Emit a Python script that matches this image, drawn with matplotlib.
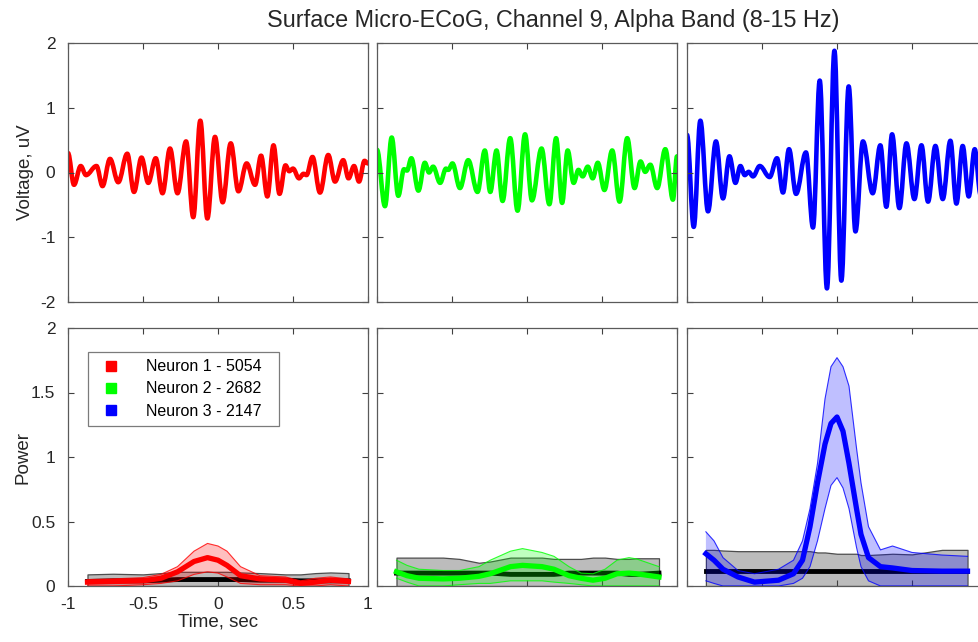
import matplotlib
matplotlib.use("Agg")
import matplotlib.pyplot as plt
from matplotlib.path import Path
from matplotlib.patches import PathPatch
from matplotlib.lines import Line2D

plt.rcParams['font.family'] = ['Liberation Sans', 'DejaVu Sans']

# ---- top row: alpha-band filtered voltage, extrema of each trace (sec, uV) ----
v1_t = [-1.0, -0.96, -0.915, -0.88, -0.81, -0.77, -0.72, -0.665, -0.605, -0.56, -0.51, -0.465,
        -0.415, -0.37, -0.32, -0.27, -0.213, -0.165, -0.118, -0.071, -0.02, 0.031, 0.085, 0.136,
        0.191, 0.247, 0.287, 0.329, 0.37, 0.41, 0.45, 0.475, 0.50, 0.54, 0.57, 0.59, 0.63, 0.68,
        0.735, 0.78, 0.835, 0.87, 0.907, 0.94, 0.977, 1.0]
v1_v = [0.30, -0.19, 0.10, -0.04, 0.10, -0.21, 0.21, -0.15, 0.29, -0.30, 0.23, -0.16,
        0.22, -0.32, 0.37, -0.32, 0.48, -0.69, 0.80, -0.71, 0.55, -0.46, 0.45, -0.29,
        0.14, -0.19, 0.26, -0.37, 0.42, -0.33, 0.11, 0.02, 0.06, -0.09, -0.02, -0.04, 0.24, -0.31,
        0.27, -0.14, 0.19, -0.09, 0.10, -0.14, 0.18, 0.14]

v2_t = [-1.0, -0.947, -0.902, -0.858, -0.82, -0.80, -0.771, -0.724, -0.681, -0.653, -0.626, -0.579,
        -0.54, -0.525, -0.497, -0.447, -0.392, -0.33, -0.281, -0.245, -0.203, -0.163, -0.112, -0.063,
        -0.013, 0.033, 0.097, 0.149, 0.194, 0.234, 0.271, 0.311, 0.343, 0.371, 0.405, 0.438, 0.472,
        0.516, 0.568, 0.617, 0.668, 0.717, 0.757, 0.788, 0.822, 0.868, 0.922, 0.973, 1.0]
v2_v = [0.35, -0.52, 0.54, -0.36, 0.05, 0.03, 0.22, -0.28, 0.15, 0.0, 0.09, -0.16,
        0.06, 0.04, 0.14, -0.24, 0.19, -0.30, 0.34, -0.30, 0.34, -0.44, 0.53, -0.59,
        0.59, -0.43, 0.37, -0.49, 0.53, -0.47, 0.34, -0.16, 0.04, -0.06, 0.09, -0.09, 0.15,
        -0.27, 0.34, -0.45, 0.53, -0.24, 0.17, 0.01, 0.12, -0.24, 0.36, -0.42, 0.25]

v3_t = [-1.0, -0.955, -0.911, -0.86, -0.807, -0.76, -0.717, -0.677, -0.644, -0.615, -0.589, -0.56,
        -0.515, -0.449, -0.40, -0.36, -0.32, -0.273, -0.207, -0.16, -0.115, -0.067, -0.017, 0.029,
        0.078, 0.123, 0.173, 0.238, 0.289, 0.329, 0.367, 0.416, 0.463, 0.516, 0.563, 0.607, 0.656,
        0.705, 0.756, 0.796, 0.838, 0.878, 0.918, 0.958, 1.0]
v3_v = [0.58, -0.84, 0.80, -0.60, 0.48, -0.40, 0.25, -0.16, 0.10, -0.04, 0.01, -0.06,
        0.10, -0.07, 0.22, -0.31, 0.36, -0.33, 0.31, -0.85, 1.42, -1.79, 1.88, -1.67,
        1.33, -0.91, 0.48, -0.32, 0.42, -0.53, 0.59, -0.55, 0.45, -0.41, 0.42, -0.45, 0.41,
        -0.41, 0.49, -0.48, 0.41, -0.37, 0.36, -0.35, 0.20]

# ---- bottom row: power envelopes ----
p1_t = [-0.87, -0.7, -0.5, -0.38, -0.27, -0.16, -0.07, 0.0, 0.06, 0.15, 0.28, 0.45, 0.55, 0.65, 0.75, 0.87]
p1_mean = [0.03, 0.035, 0.04, 0.06, 0.11, 0.19, 0.22, 0.20, 0.16, 0.08, 0.055, 0.045, 0.02, 0.03, 0.045, 0.035]
p1_hi = [0.05, 0.055, 0.065, 0.09, 0.15, 0.27, 0.33, 0.31, 0.27, 0.15, 0.08, 0.07, 0.04, 0.06, 0.07, 0.055]
p1_lo = [0.0, 0.0, 0.01, 0.02, 0.04, 0.09, 0.11, 0.10, 0.07, 0.02, 0.01, 0.01, 0.0, 0.0, 0.01, 0.0]
b1_hi = [0.09, 0.095, 0.09, 0.10, 0.11, 0.11, 0.11, 0.11, 0.11, 0.105, 0.10, 0.09, 0.09, 0.10, 0.105, 0.10]
b1_mean = [0.035, 0.04, 0.04, 0.045, 0.05, 0.05, 0.05, 0.05, 0.05, 0.05, 0.045, 0.045, 0.04, 0.04, 0.04, 0.04]
b1_lo = [0.0] * 16

p2_t = [-0.87, -0.8, -0.72, -0.56, -0.45, -0.32, -0.245, -0.11, -0.03, 0.1, 0.18, 0.28, 0.36,
        0.44, 0.52, 0.6, 0.68, 0.73, 0.88]
p2_mean = [0.11, 0.08, 0.06, 0.055, 0.06, 0.075, 0.095, 0.15, 0.16, 0.15, 0.13, 0.08, 0.06,
           0.045, 0.06, 0.095, 0.10, 0.095, 0.07]
p2_hi = [0.20, 0.16, 0.13, 0.12, 0.12, 0.15, 0.20, 0.27, 0.29, 0.26, 0.23, 0.15, 0.10,
         0.095, 0.13, 0.20, 0.22, 0.21, 0.15]
p2_lo = [0.06, 0.03, 0.0, 0.0, 0.01, 0.02, 0.02, 0.04, 0.04, 0.04, 0.03, 0.02, 0.01,
         0.0, 0.0, 0.0, 0.0, 0.0, 0.0]
b2_hi = [0.22, 0.22, 0.22, 0.22, 0.21, 0.18, 0.19, 0.22, 0.22, 0.22, 0.21, 0.21, 0.21,
         0.22, 0.22, 0.21, 0.21, 0.215, 0.215]
b2_mean = [0.10, 0.10, 0.10, 0.10, 0.10, 0.10, 0.10, 0.09, 0.09, 0.09, 0.09, 0.10, 0.10,
           0.10, 0.10, 0.10, 0.09, 0.09, 0.10]
b2_lo = [0.0] * 19

p3_t = [-0.874, -0.82, -0.76, -0.66, -0.55, -0.39, -0.29, -0.23, -0.18, -0.13, -0.08, -0.04, 0.0,
        0.04, 0.08, 0.13, 0.16, 0.21, 0.29, 0.37, 0.5, 0.7, 0.87]
p3_mean = [0.25, 0.20, 0.13, 0.07, 0.03, 0.045, 0.095, 0.20, 0.46, 0.80, 1.10, 1.26, 1.31,
           1.20, 0.95, 0.60, 0.40, 0.22, 0.15, 0.14, 0.12, 0.115, 0.115]
p3_hi = [0.42, 0.35, 0.22, 0.12, 0.095, 0.13, 0.20, 0.35, 0.60, 0.95, 1.45, 1.70, 1.77,
         1.70, 1.55, 1.07, 0.80, 0.46, 0.28, 0.31, 0.26, 0.24, 0.23]
p3_lo = [0.04, 0.02, 0.0, 0.0, 0.0, 0.0, 0.02, 0.06, 0.15, 0.35, 0.60, 0.78, 0.84,
         0.76, 0.60, 0.30, 0.15, 0.04, 0.0, 0.0, 0.0, 0.0, 0.0]
b3_hi = [0.28, 0.28, 0.275, 0.27, 0.27, 0.27, 0.27, 0.27, 0.27, 0.26, 0.26, 0.255, 0.25,
         0.25, 0.25, 0.25, 0.24, 0.24, 0.245, 0.25, 0.245, 0.28, 0.28]
b3_mean = [0.115] * 23
b3_lo = [0.0] * 23

labels = ['Neuron 1 - 5054', 'Neuron 2 - 2682', 'Neuron 3 - 2147']
colors = ['#ff0000', '#00ff00', '#0000ff']


def wave_path(t, v):
    # smooth half-cycles between successive extrema
    verts = [(t[0], v[0])]
    codes = [Path.MOVETO]
    for i in range(len(t) - 1):
        dt = t[i + 1] - t[i]
        verts += [(t[i] + 0.36 * dt, v[i]), (t[i + 1] - 0.36 * dt, v[i + 1]), (t[i + 1], v[i + 1])]
        codes += [Path.CURVE4] * 3
    return Path(verts, codes)


def style(ax, ylim, yticks, show_y, show_x):
    ax.set_xlim(-1, 1)
    ax.set_ylim(*ylim)
    ax.set_xticks([-1, -0.5, 0, 0.5, 1])
    ax.set_yticks(yticks)
    ax.tick_params(direction='in', top=True, right=True, length=4, width=0.8,
                   colors='#404040', labelsize=12.5, labelcolor='#262626')
    ax.tick_params(axis='y', pad=9)
    ax.tick_params(axis='x', pad=8)
    for s in ax.spines.values():
        s.set_color('#5a5a5a')
        s.set_linewidth(0.9)
    if not show_y:
        ax.set_yticklabels([])
    else:
        ax.set_yticklabels([('%g' % y) for y in yticks])
    if not show_x:
        ax.set_xticklabels([])
    else:
        ax.set_xticklabels(['-1', '-0.5', '0', '0.5', '1'])


W, H = 979, 642
fig = plt.figure(figsize=(W / 100, H / 100), dpi=100)

lefts = [68, 377, 687]
aw = 300
top_axes = [fig.add_axes([l / W, 1 - 302 / H, aw / W, 259 / H]) for l in lefts]
bot_axes = [fig.add_axes([l / W, 1 - 586 / H, aw / W, 258 / H]) for l in lefts]

waves = [(v1_t, v1_v), (v2_t, v2_v), (v3_t, v3_v)]
for i, ax in enumerate(top_axes):
    t, v = waves[i]
    ax.add_patch(PathPatch(wave_path(t, v), facecolor='none', edgecolor=colors[i],
                           lw=3.3, capstyle='round', joinstyle='round'))
    style(ax, (-2, 2), [-2, -1, 0, 1, 2], i == 0, False)

power = [(p1_t, p1_mean, p1_hi, p1_lo, b1_hi, b1_mean, b1_lo),
         (p2_t, p2_mean, p2_hi, p2_lo, b2_hi, b2_mean, b2_lo),
         (p3_t, p3_mean, p3_hi, p3_lo, b3_hi, b3_mean, b3_lo)]
for i, ax in enumerate(bot_axes):
    t, m, hi, lo, bhi, bm, blo = power[i]
    ax.fill_between(t, blo, bhi, facecolor='#bcbcbc', edgecolor='#4d4d4d', lw=0.9, zorder=1)
    ax.plot(t, bm, color='black', lw=3.5, zorder=2)
    ax.fill_between(t, lo, hi, facecolor=colors[i], alpha=0.25, lw=0, zorder=3)
    ax.plot(t, hi, color=colors[i], lw=0.8, alpha=0.8, zorder=3)
    ax.plot(t, lo, color=colors[i], lw=0.8, alpha=0.8, zorder=3)
    ax.plot(t, m, color=colors[i], lw=3.8, zorder=4, solid_joinstyle='round')
    style(ax, (0, 2), [0, 0.5, 1, 1.5, 2], i == 0, i == 0)

handles = [Line2D([], [], ls='none', marker='s', markersize=6.5, color=c) for c in colors]
leg = bot_axes[0].legend(handles, labels, loc='upper left', mode='expand',
                         bbox_to_anchor=(0.067, 0.5, 0.637, 0.407),
                         fontsize=11.5, frameon=True, fancybox=False, handlelength=2.0,
                         handletextpad=1.2, borderpad=0.45, labelspacing=0.45,
                         borderaxespad=0)
leg.get_frame().set_edgecolor('#5a5a5a')
leg.get_frame().set_linewidth(0.9)

top_axes[0].set_ylabel('Voltage, uV', fontsize=13.5, color='#262626', labelpad=4)
bot_axes[0].set_ylabel('Power', fontsize=13.5, color='#262626', labelpad=0)
bot_axes[0].set_xlabel('Time, sec', fontsize=13.5, color='#262626', labelpad=1)
fig.text(553 / W, 1 - 20 / H, 'Surface Micro-ECoG, Channel 9, Alpha Band (8-15 Hz)',
         ha='center', va='center', fontsize=16.8, color='#262626')

fig.savefig('out.png', dpi=100)
